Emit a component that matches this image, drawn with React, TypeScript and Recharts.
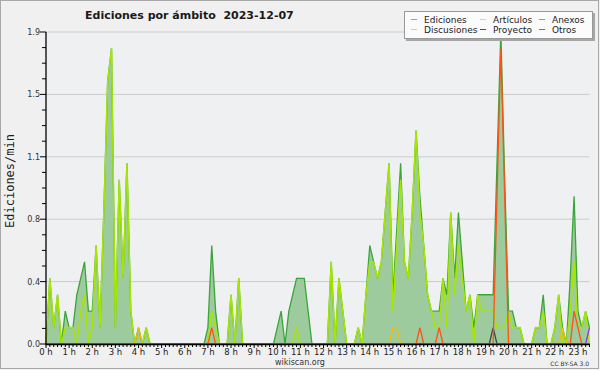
import React from 'react';
import { ComposedChart, Area, Line, XAxis, YAxis, CartesianGrid } from 'recharts';

// Edits per minute, 10-minute buckets from 00:00 to 23:30 (142 points)
const ediciones = [
  0, 0.4, 0.1, 0.3, 0, 0.2, 0.1, 0.1, 0.3, 0.4, 0.5, 0.2,
  0.2, 0.6, 0.1, 0.8, 1.6, 1.8, 0.1, 1.0, 0.4, 1.1, 0.2, 0,
  0.1, 0, 0.1, 0, 0, 0, 0, 0, 0, 0, 0, 0,
  0, 0, 0, 0, 0, 0, 0.1, 0.6, 0.2, 0, 0, 0,
  0.3, 0, 0.4, 0, 0, 0, 0, 0, 0, 0, 0, 0,
  0.1, 0.2, 0, 0.2, 0.3, 0.4, 0.4, 0.4, 0.2, 0, 0, 0,
  0, 0, 0.5, 0, 0.4, 0.2, 0, 0, 0, 0.1, 0, 0.3,
  0.6, 0.5, 0.4, 0.5, 0.8, 1.1, 0.3, 0.7, 1.1, 0.5, 0.4, 0.8,
  1.3, 0.9, 0.6, 0.3, 0.2, 0.2, 0.2, 0.4, 0.3, 0.8, 0.4, 0.8,
  0.5, 0.2, 0.3, 0.1, 0.3, 0.3, 0.3, 0.3, 0.3, 1.1, 1.9, 1.0,
  0.2, 0.2, 0.1, 0.1, 0, 0, 0, 0.1, 0.1, 0.3, 0, 0,
  0.1, 0.3, 0.1, 0, 0.4, 0.9, 0.2, 0.1, 0.2, 0.1,
];

const articulos = [
  0, 0.4, 0.1, 0.3, 0, 0.1, 0.1, 0.1, 0, 0.2, 0.3, 0,
  0.1, 0.6, 0.1, 0.8, 1.6, 1.8, 0.1, 1.0, 0.4, 1.1, 0.2, 0,
  0, 0, 0.1, 0, 0, 0, 0, 0, 0, 0, 0, 0,
  0, 0, 0, 0, 0, 0, 0, 0.2, 0.1, 0, 0, 0,
  0.3, 0, 0.4, 0, 0, 0, 0, 0, 0, 0, 0, 0,
  0, 0, 0, 0, 0, 0.1, 0, 0, 0, 0, 0, 0,
  0, 0, 0.5, 0, 0.4, 0.2, 0, 0, 0, 0.1, 0, 0.3,
  0.5, 0.5, 0.4, 0.5, 0.8, 1.1, 0.2, 0.6, 1.0, 0.5, 0.4, 0.8,
  1.3, 0.8, 0.6, 0.3, 0.2, 0.1, 0.1, 0.4, 0.1, 0.8, 0.3, 0.6,
  0.4, 0.2, 0.3, 0, 0.3, 0.2, 0.2, 0.2, 0.2, 0.1, 0.1, 0.1,
  0.2, 0.1, 0.1, 0.1, 0, 0, 0, 0.1, 0.1, 0.2, 0, 0,
  0.1, 0.3, 0, 0, 0.2, 0.5, 0.1, 0.1, 0.2, 0,
];

const discusiones = [
  0, 0, 0, 0, 0, 0, 0, 0, 0, 0, 0, 0,
  0, 0, 0, 0, 0, 0, 0, 0, 0, 0, 0, 0,
  0.1, 0, 0, 0, 0, 0, 0, 0, 0, 0, 0, 0,
  0, 0, 0, 0, 0, 0, 0, 0, 0, 0, 0, 0,
  0, 0, 0, 0, 0, 0, 0, 0, 0, 0, 0, 0,
  0, 0, 0, 0, 0, 0, 0, 0, 0, 0, 0, 0,
  0, 0, 0, 0, 0, 0, 0, 0, 0, 0, 0, 0,
  0, 0, 0, 0, 0, 0, 0.1, 0.1, 0, 0, 0, 0,
  0, 0, 0, 0, 0, 0, 0, 0, 0, 0, 0, 0,
  0, 0, 0, 0, 0, 0, 0, 0, 0, 0, 0, 0,
  0, 0, 0, 0, 0, 0, 0, 0, 0, 0, 0, 0,
  0, 0, 0.1, 0, 0, 0, 0, 0, 0, 0,
];

const anexos = [
  0, 0, 0, 0, 0, 0, 0, 0, 0, 0, 0, 0,
  0, 0, 0, 0, 0, 0, 0, 0, 0, 0, 0, 0,
  0, 0, 0, 0, 0, 0, 0, 0, 0, 0, 0, 0,
  0, 0, 0, 0, 0, 0, 0, 0.1, 0, 0, 0, 0,
  0, 0, 0, 0, 0, 0, 0, 0, 0, 0, 0, 0,
  0, 0, 0, 0, 0, 0, 0, 0, 0, 0, 0, 0,
  0, 0, 0, 0, 0, 0, 0, 0, 0, 0, 0, 0,
  0, 0, 0, 0, 0, 0, 0, 0, 0, 0, 0, 0,
  0, 0.1, 0, 0, 0, 0, 0.1, 0, 0, 0, 0, 0,
  0, 0, 0, 0, 0, 0, 0, 0, 0, 0.9, 1.8, 0.9,
  0, 0, 0, 0, 0, 0, 0, 0, 0, 0, 0, 0,
  0, 0, 0, 0, 0, 0.2, 0.1, 0, 0, 0,
];

const proyecto = [
  0, 0, 0, 0, 0, 0, 0, 0, 0, 0, 0, 0,
  0, 0, 0, 0, 0, 0, 0, 0, 0, 0, 0, 0,
  0, 0, 0, 0, 0, 0, 0, 0, 0, 0, 0, 0,
  0, 0, 0, 0, 0, 0, 0, 0, 0, 0, 0, 0,
  0, 0, 0, 0, 0, 0, 0, 0, 0, 0, 0, 0,
  0, 0, 0, 0, 0, 0, 0, 0, 0, 0, 0, 0,
  0, 0, 0, 0, 0, 0, 0, 0, 0, 0, 0, 0,
  0, 0, 0, 0, 0, 0, 0, 0, 0, 0, 0, 0,
  0, 0, 0, 0, 0, 0, 0, 0, 0, 0, 0, 0,
  0, 0, 0, 0, 0, 0, 0, 0, 0.1, 0, 0, 0,
  0, 0, 0, 0, 0, 0, 0, 0, 0, 0, 0, 0,
  0, 0, 0, 0, 0, 0, 0, 0, 0, 0,
];

const otros = [
  0, 0, 0, 0, 0, 0, 0, 0, 0, 0, 0, 0,
  0, 0, 0, 0, 0, 0, 0, 0, 0, 0, 0, 0,
  0, 0, 0, 0, 0, 0, 0, 0, 0, 0, 0, 0,
  0, 0, 0, 0, 0, 0, 0, 0, 0, 0, 0, 0,
  0, 0, 0, 0, 0, 0, 0, 0, 0, 0, 0, 0,
  0, 0, 0, 0, 0, 0, 0, 0, 0, 0, 0, 0,
  0, 0, 0, 0, 0, 0, 0, 0, 0, 0, 0, 0,
  0, 0, 0, 0, 0, 0, 0, 0, 0, 0, 0, 0,
  0, 0, 0, 0, 0, 0, 0, 0, 0, 0, 0, 0,
  0, 0, 0, 0, 0, 0, 0, 0, 0, 0, 0, 0,
  0, 0, 0, 0, 0, 0, 0, 0, 0, 0, 0, 0,
  0, 0, 0, 0, 0, 0, 0, 0, 0, 0.1,
];

const hourLabels = [
  '0 h', '1 h', '2 h', '3 h', '4 h', '5 h', '6 h', '7 h', '8 h', '9 h', '10 h', '11 h',
  '12 h', '13 h', '14 h', '15 h', '16 h', '17 h', '18 h', '19 h', '20 h', '21 h', '22 h', '23 h',
];

const yMajor = [0, 0.38, 0.76, 1.14, 1.52, 1.9];
const yLabels = ['0.0', '0.4', '0.8', '1.1', '1.5', '1.9'];
const yTicks = [
  0, 0.095, 0.19, 0.285, 0.38, 0.475, 0.57, 0.665, 0.76, 0.855, 0.95,
  1.045, 1.14, 1.235, 1.33, 1.425, 1.52, 1.615, 1.71, 1.805, 1.9,
];

const data = ediciones.map((v, i) => ({
  i,
  ediciones: v,
  articulos: articulos[i],
  discusiones: discusiones[i],
  anexos: anexos[i],
  proyecto: proyecto[i],
  otros: otros[i],
}));

const xTicks = data.map((d) => d.i);

const FONT = 'DejaVu Sans, sans-serif';

const legendItems = [
  { name: 'Ediciones', color: '#6cc46c', x: 411, y: 19.5 },
  { name: 'Artículos', color: '#c8ec60', x: 480, y: 19.5 },
  { name: 'Anexos', color: '#ff7a3a', x: 539, y: 19.5 },
  { name: 'Discusiones', color: '#ffcc40', x: 411, y: 29.5 },
  { name: 'Proyecto', color: '#555555', x: 480, y: 29.5 },
  { name: 'Otros', color: '#9a50ee', x: 539, y: 29.5 },
];

const renderXTick = (props: any) => {
  const { x, y, payload } = props;
  const idx = payload.value;
  const isHour = idx % 6 === 0;
  return (
    <g>
      <line x1={x} x2={x} y1={y} y2={y + (isHour ? 4 : 3)} stroke="#000" strokeWidth={1} />
      {isHour && (
        <text x={x} y={y + 10.5} textAnchor="middle" fontSize={8.5} fontFamily={FONT} fill="#222">
          {hourLabels[idx / 6]}
        </text>
      )}
    </g>
  );
};

const renderYTick = (props: any) => {
  const { x, y, index } = props;
  const isMajor = index % 4 === 0;
  return (
    <g>
      <line x1={x - (isMajor ? 6 : 4)} x2={x} y1={y} y2={y} stroke="#000" strokeWidth={1} />
      {isMajor && (
        <text x={x - 6} y={y + 3} textAnchor="end" fontSize={8} fontFamily={FONT} fill="#333">
          {yLabels[index / 4]}
        </text>
      )}
    </g>
  );
};

export default function App() {
  return (
    <div style={{ position: 'fixed', left: 0, top: 0, width: 600, height: 370, background: '#f0f0f0' }}>
      <ComposedChart width={600} height={370} data={data} margin={{ top: 32, right: 10.5, bottom: 6, left: 6 }}>
        <CartesianGrid
          fill="#eff0f2"
          vertical={false}
          horizontalValues={yMajor.slice(1)}
          stroke="#cccccc"
          strokeWidth={1}
        />
        <XAxis
          type="number"
          dataKey="i"
          domain={[0, 141]}
          ticks={xTicks}
          interval={0}
          height={20}
          tickSize={0}
          tickMargin={0}
          axisLine={false}
          tickLine={false}
          tick={renderXTick}
        />
        <YAxis
          type="number"
          domain={[0, 1.9]}
          ticks={yTicks}
          interval={0}
          width={40}
          tickSize={0}
          tickMargin={0}
          axisLine={false}
          tickLine={false}
          tick={renderYTick}
        />
        <Area
          type="linear"
          dataKey="ediciones"
          stroke="#3aa53a"
          strokeWidth={1.3}
          fill="#9ecb9e"
          fillOpacity={1}
          dot={false}
          activeDot={false}
          isAnimationActive={false}
        />
        <Line type="linear" dataKey="articulos" stroke="#a6e600" strokeWidth={1.5} dot={false} activeDot={false} isAnimationActive={false} />
        <Line type="linear" dataKey="discusiones" stroke="#f5bc00" strokeWidth={1.3} dot={false} activeDot={false} isAnimationActive={false} />
        <Line type="linear" dataKey="proyecto" stroke="#444444" strokeWidth={1.3} dot={false} activeDot={false} isAnimationActive={false} />
        <Line type="linear" dataKey="anexos" stroke="#ff5214" strokeWidth={1.3} dot={false} activeDot={false} isAnimationActive={false} />
        <Line type="linear" dataKey="otros" stroke="#8a3af0" strokeWidth={1.3} dot={false} activeDot={false} isAnimationActive={false} />
      </ComposedChart>

      <svg width={600} height={370} style={{ position: 'absolute', left: 0, top: 0, pointerEvents: 'none' }}>
        {/* frame */}
        <rect x={0.5} y={0.5} width={598} height={368} fill="none" stroke="#a8a8a8" />
        {/* axes */}
        <line x1={46} x2={46} y1={32} y2={344.5} stroke="#000" strokeWidth={1.3} />
        <line x1={45.5} x2={589.5} y1={344.5} y2={344.5} stroke="#000" strokeWidth={1.3} />
        {/* title */}
        <text x={85} y={18.5} fontSize={11} fontWeight="bold" fontFamily={FONT} fill="#1a1a1a">
          Ediciones por ámbito{'\u00a0\u00a0'}2023-12-07
        </text>
        {/* y label */}
        <text
          transform="translate(14,181) rotate(-90)"
          textAnchor="middle"
          fontSize={12}
          fontFamily="DejaVu Sans Mono, monospace"
          fill="#1a1a1a"
        >
          Ediciones/min
        </text>
        {/* legend */}
        <rect x={406} y={13} width={189} height={28} fill="#a6a6a6" />
        <rect x={404.5} y={11.5} width={188} height={27} fill="#fbfbfb" stroke="#9a9a9a" />
        {legendItems.map((it) => (
          <g key={it.name}>
            <line x1={it.x} x2={it.x + 6} y1={it.y} y2={it.y} stroke={it.color} strokeWidth={1} />
            <text x={it.x + 13} y={it.y + 3} fontSize={9} fontFamily={FONT} fill="#222">
              {it.name}
            </text>
          </g>
        ))}
        {/* footer */}
        <text x={300} y={364.5} textAnchor="middle" fontSize={8} fontFamily={FONT} fill="#333">
          wikiscan.org
        </text>
        <text x={589} y={365.5} textAnchor="end" fontSize={6} fontFamily={FONT} fill="#333">
          CC BY-SA 3.0
        </text>
      </svg>
    </div>
  );
}
